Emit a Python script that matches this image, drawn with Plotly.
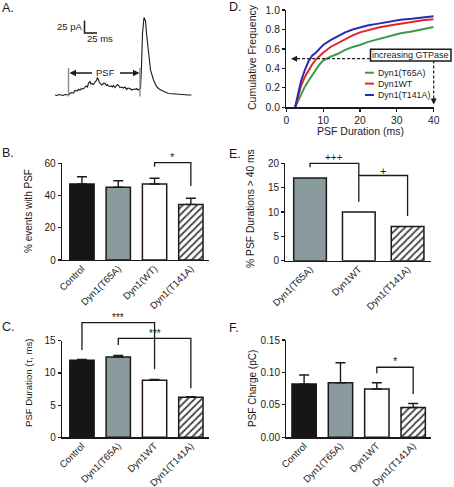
import plotly.graph_objects as go

FONT = "Arial, Liberation Sans, Helvetica, sans-serif"
INK = "#1a1a1a"
W, H = 454, 487

# ---------------- data ----------------
# Panel A: example amperometric trace (time in ms, current in pA)
trace_time_ms = [0, 4, 8, 12, 16, 20, 24, 27,
                 30, 33, 37, 40, 44, 47, 50, 53, 57, 60,
                 62, 65, 67, 70, 72, 74, 77, 80, 83, 85,
                 87, 89, 91, 93, 96, 98, 100, 103, 105, 107,
                 110, 113, 115, 117, 120, 122, 125, 127, 130, 133,
                 137, 140, 143, 146, 150, 153, 157, 160, 163, 166,
                 169, 171, 173, 175, 178, 181, 183, 187, 191, 197,
                 203, 208, 213, 220, 227, 235, 243, 255, 265, 273]
trace_current_pA = [0, -1, 1, 0, -1, 1, 0, 0,
                    3, 5, 4, 9, 8, 11, 10, 13, 12, 15,
                    18, 16, 24, 27, 22, 23, 21, 26, 29, 35,
                    27, 25, 23, 20, 22, 24, 23, 19, 21, 18,
                    17, 18, 16, 19, 15, 17, 21, 19, 15, 16,
                    14, 16, 11, 14, 13, 10, 12, 11, 13, 10,
                    12, 13, 57, 123, 155, 148, 123, 83, 50, 30,
                    17, 12, 9, 6, 3, 2, 1, 1, 0, 0]
psf_start_ms = 27
psf_end_ms = 170

# Panel B
b_groups = ["Control", "Dyn1(T65A)", "Dyn1(WT)", "Dyn1(T141A)"]
b_pct_psf = [47.2, 45.1, 47.2, 34.5]
b_sem = [4.5, 4.1, 3.5, 3.8]

# Panel C
c_groups = ["Control", "Dyn1(T65A)", "Dyn1WT", "Dyn1(T141A)"]
c_tau_ms = [11.95, 12.45, 8.85, 6.2]
c_sem = [0.15, 0.25, 0.12, 0.12]

# Panel D: cumulative frequency of PSF duration
d_series = ["Dyn1(T65A)", "Dyn1WT", "Dyn1(T141A)"]
d_duration_ms = [2.4, 3, 4, 5, 6, 7, 8, 9, 10, 12, 14, 16, 18, 20, 22, 25, 28, 31, 34, 37, 40]
d_t65a = [0, 0.05, 0.14, 0.21, 0.27, 0.33, 0.39, 0.44, 0.48, 0.52, 0.55, 0.59, 0.62, 0.64, 0.67, 0.70, 0.73, 0.76, 0.78, 0.80, 0.825]
d_wt = [0, 0.08, 0.22, 0.31, 0.38, 0.44, 0.49, 0.53, 0.56, 0.62, 0.66, 0.70, 0.74, 0.77, 0.79, 0.82, 0.84, 0.86, 0.88, 0.895, 0.905]
d_t141a = [0, 0.10, 0.27, 0.38, 0.47, 0.53, 0.56, 0.60, 0.64, 0.69, 0.73, 0.77, 0.80, 0.82, 0.84, 0.86, 0.88, 0.90, 0.91, 0.925, 0.935]

# Panel E
e_groups = ["Dyn1(T65A)", "Dyn1WT", "Dyn1(T141A)"]
e_pct_over40 = [17, 10, 7]

# Panel F
f_groups = ["Control", "Dyn1(T65A)", "Dyn1WT", "Dyn1(T141A)"]
f_charge_pC = [0.082, 0.084, 0.0745, 0.046]
f_sem = [0.014, 0.031, 0.0095, 0.006]

# ---------------- styling ----------------
BLACK_BAR = "#161616"
GRAY_BAR = "#8a9b9d"
GREEN, RED, BLUE = "#3c9a48", "#e0262b", "#2b2bb0"

# panel geometry in pixels (x span, x range, y span, y range)
GEOM = {
    "B": dict(n="", x=(62, 209), xr=(-0.55, 3.5), y=(163.3, 260), yr=(0, 60)),
    "C": dict(n="2", x=(62, 209), xr=(-0.55, 3.5), y=(340.7, 437.3), yr=(0, 15)),
    "D": dict(n="3", x=(286.3, 433.7), xr=(0, 40), y=(10, 107.3), yr=(0, 1)),
    "E": dict(n="4", x=(285.3, 431), xr=(-0.507, 2.48), y=(163.3, 260.7), yr=(0, 20)),
    "F": dict(n="5", x=(286.3, 431), xr=(-0.49, 3.49), y=(340, 437.3), yr=(0, 0.15)),
    "A": dict(n="6", x=(55, 192), xr=(0, 274), y=(10, 100), yr=(-10, 170)),
}


def dom(p):
    g = GEOM[p]
    return [g["x"][0] / W, g["x"][1] / W], [1 - g["y"][1] / H, 1 - g["y"][0] / H]


def paper(p, xv, yv):
    g = GEOM[p]
    px = g["x"][0] + (xv - g["xr"][0]) / (g["xr"][1] - g["xr"][0]) * (g["x"][1] - g["x"][0])
    py = g["y"][1] - (yv - g["yr"][0]) / (g["yr"][1] - g["yr"][0]) * (g["y"][1] - g["y"][0])
    return px / W, 1 - py / H


def PX(px):
    return px / W


def PY(py):
    return 1 - py / H


fig = go.Figure()


def axrefs(p):
    n = GEOM[p]["n"]
    return "x" + n, "y" + n


def add_bars(p, cats, vals, fills, patterns, sem=None):
    xr, yr = axrefs(p)
    err = None
    if sem is not None:
        err = dict(type="data", array=sem, arrayminus=[0] * len(sem), symmetric=False,
                   color=INK, thickness=1.4, width=5)
    fig.add_trace(go.Bar(
        x=cats, y=vals, xaxis=xr, yaxis=yr, width=0.67,
        marker=dict(color=fills, line=dict(color=INK, width=1.5),
                    pattern=dict(shape=patterns, fgcolor="#000000", fgopacity=1,
                                 fillmode="overlay", size=5, solidity=0.35)),
        error_y=err, showlegend=False, hoverinfo="skip"))


def fills_for(cats):
    f, pt = [], []
    for c in cats:
        if c == "Control":
            f.append(BLACK_BAR); pt.append("")
        elif "T65A" in c:
            f.append(GRAY_BAR); pt.append("")
        elif "T141A" in c:
            f.append("white"); pt.append("/")
        else:
            f.append("white"); pt.append("")
    return f, pt


# Panel A trace
fig.add_trace(go.Scatter(x=trace_time_ms, y=trace_current_pA, xaxis="x6", yaxis="y6",
                         mode="lines", line=dict(color=INK, width=1.1),
                         showlegend=False, hoverinfo="skip"))

# Bars
for p, cats, vals, sem in [("B", b_groups, b_pct_psf, b_sem),
                           ("C", c_groups, c_tau_ms, c_sem),
                           ("E", e_groups, e_pct_over40, None),
                           ("F", f_groups, f_charge_pC, f_sem)]:
    fl, pt = fills_for(cats)
    add_bars(p, cats, vals, fl, pt, sem)

# Panel D curves
for name, vals, col in [(d_series[0], d_t65a, GREEN), (d_series[1], d_wt, RED),
                        (d_series[2], d_t141a, BLUE)]:
    fig.add_trace(go.Scatter(x=d_duration_ms, y=vals, xaxis="x3", yaxis="y3", mode="lines",
                             line=dict(color=col, width=2), name=name,
                             showlegend=False, hoverinfo="skip"))

# ---------------- axes ----------------
base = dict(showline=True, linecolor=INK, linewidth=1.3, showgrid=False, zeroline=False,
            automargin=False,
            tickfont=dict(family=FONT, size=10, color=INK), fixedrange=True)
layout = {}
for p, g in GEOM.items():
    xd, yd = dom(p)
    n = g["n"]
    xa = dict(base, domain=xd, range=list(g["xr"]), anchor="y" + n)
    ya = dict(base, domain=yd, range=list(g["yr"]), anchor="x" + n,
              ticks="outside", ticklen=3, tickwidth=1.2, tickcolor=INK)
    if p in ("B", "C", "E", "F"):
        xa.update(type="category", ticks="", tickangle=-45, ticklabelstandoff=-2,
                  tickfont=dict(family=FONT, size=9.6, color=INK))
    layout["xaxis" + n] = xa
    layout["yaxis" + n] = ya

layout["yaxis"].update(dtick=20)
layout["yaxis2"].update(dtick=5)
layout["yaxis4"].update(dtick=5)
layout["yaxis5"].update(dtick=0.05, tickformat=".2f")
layout["xaxis3"].update(dtick=10, ticks="outside", ticklen=3, tickwidth=1.2, tickcolor=INK,
                        tickfont=dict(family=FONT, size=10.3, color=INK))
layout["yaxis3"].update(dtick=0.2, tickformat=".1f", tickfont=dict(family=FONT, size=10.3, color=INK))
layout["xaxis6"].update(visible=False)
layout["yaxis6"].update(visible=False)

shapes = []
annotations = []


def txt(x, y, s, size=10, xanchor="center", yanchor="middle", angle=0, **kw):
    annotations.append(dict(x=x, y=y, xref="paper", yref="paper", text=s, showarrow=False,
                            xanchor=xanchor, yanchor=yanchor, textangle=angle,
                            font=dict(family=FONT, size=size, color=INK), **kw))


# panel letters
for s, x, y in [("A.", 0, 8), ("B.", 0, 153), ("C.", 0, 327),
                ("D.", 227, 7), ("E.", 227, 154), ("F.", 227, 327.5)]:
    txt(PX(x), PY(y), s, size=12.5, xanchor="left")

# axis titles
txt(PX(28), PY(211), "% events with PSF", angle=-90)
txt(PX(28), PY(383), "PSF Duration (τ, ms)", size=9.6, angle=-90)
txt(PX(252), PY(57), "Cumulative Frequency", size=10.5, angle=-90)
txt(PX(360), PY(131.5), "PSF Duration (ms)", size=10.5)
txt(PX(250), PY(208), "% PSF Durations > 40 ms", size=10.3, angle=-90)
txt(PX(252), PY(389), "PSF Charge (pC)", angle=-90)


def bracket(p, i, j, top, yi, yj, label, label_y, size=10):
    pts = [paper(p, i, yi), paper(p, i, top), paper(p, j, top), paper(p, j, yj)]
    path = "M " + " L ".join(f"{x:.5f},{y:.5f}" for x, y in pts)
    shapes.append(dict(type="path", xref="paper", yref="paper", path=path,
                       line=dict(color=INK, width=1.3)))
    lx, ly = paper(p, (i + j) / 2, label_y)
    txt(lx, ly, label, size=size)


bracket("B", 2, 3, 60.4, 57.9, 45.9, "*", 63.6, size=11)
bracket("C", 0, 2, 17.8, 13.56, 10.56, "***", 18.6)
bracket("C", 1, 3, 15.37, 14.33, 7.6, "***", 16.15)
bracket("E", 0, 1, 20, 19.18, 12.1, "+++", 21.2)
bracket("E", 1, 2, 17.5, 17.5, 9.2, "+", 18.5, size=11)
bracket("F", 2, 3, 0.108, 0.0987, 0.0668, "*", 0.1175, size=11)

# ---------------- Panel A decorations ----------------
for t in (psf_start_ms, psf_end_ms):
    shapes.append(dict(type="line", xref="x6", yref="y6", x0=t, x1=t, y0=-3, y1=54,
                       line=dict(color="#8a8a8a", width=1.4)))
# scale bar 25 pA / 25 ms
shapes.append(dict(type="path", xref="x6", yref="y6",
                   path="M 59,149 L 59,124 L 84,124", line=dict(color=INK, width=1.5)))
annotations.append(dict(x=57, y=137, xref="x6", yref="y6", text="25 pA", showarrow=False,
                        xanchor="right", font=dict(family=FONT, size=9.5, color=INK)))
annotations.append(dict(x=59, y=112, xref="x6", yref="y6", text="25 ms", showarrow=False,
                        xanchor="left", font=dict(family=FONT, size=9.5, color=INK)))
annotations.append(dict(x=100, y=44, xref="x6", yref="y6", text="PSF", showarrow=False,
                        font=dict(family=FONT, size=9.5, color=INK)))
for head, tail in ((29, 77), (169, 127)):
    annotations.append(dict(x=head, y=44, ax=tail, ay=44, xref="x6", yref="y6",
                            axref="x6", ayref="y6", text="", showarrow=True,
                            arrowhead=2, arrowsize=1, arrowwidth=1.3, arrowcolor=INK))

# ---------------- Panel D decorations ----------------
# legend
for k, (name, col) in enumerate(zip(d_series, [GREEN, RED, BLUE])):
    yy = [72.7, 83.6, 95][k]
    shapes.append(dict(type="line", xref="paper", yref="paper", x0=PX(365), x1=PX(374),
                       y0=PY(yy), y1=PY(yy), line=dict(color=col, width=2)))
    txt(PX(376), PY(yy), name, size=8.8, xanchor="left")

# increasing GTPase box
shapes.append(dict(type="rect", xref="paper", yref="paper", x0=PX(370.5), x1=PX(451),
                   y0=PY(61), y1=PY(49.3), line=dict(color=INK, width=1.5), fillcolor="white"))
txt(PX(410.7), PY(55.2), "increasing GTPase", size=9)
# dashed arrows
hx0, hy = paper("D", 1.3, 0.5)
hx1, _ = paper("D", 22.6, 0.5)
shapes.append(dict(type="line", xref="paper", yref="paper", x0=hx0 + 6 / W, x1=hx1,
                   y0=hy, y1=hy, line=dict(color=INK, width=1.2, dash="3px,2px")))
annotations.append(dict(x=hx0, y=hy, xref="paper", yref="paper", ax=8, ay=0, text="",
                        showarrow=True, arrowhead=2, arrowsize=1, arrowwidth=1.2, arrowcolor=INK))
vx, vy0 = paper("D", 40, 0.03)
_, vy1 = paper("D", 40, 0.475)
shapes.append(dict(type="line", xref="paper", yref="paper", x0=vx, x1=vx,
                   y0=vy0 + 6 / H, y1=vy1, line=dict(color=INK, width=1.2, dash="3px,2px")))
annotations.append(dict(x=vx, y=vy0, xref="paper", yref="paper", ax=0, ay=-8, text="",
                        showarrow=True, arrowhead=2, arrowsize=1, arrowwidth=1.2, arrowcolor=INK))

fig.update_layout(
    template="none",
    width=W, height=H, margin=dict(l=0, r=0, t=0, b=0, pad=0, autoexpand=False),
    paper_bgcolor="white", plot_bgcolor="white", showlegend=False,
    font=dict(family=FONT, size=10, color=INK), bargap=0.3,
    shapes=shapes, annotations=annotations, **layout)

fig.write_html("out.html", config={"displayModeBar": False, "staticPlot": True},
               post_script="document.body.style.margin='0';document.body.style.padding='0';"
                           "document.body.style.overflow='hidden';")
